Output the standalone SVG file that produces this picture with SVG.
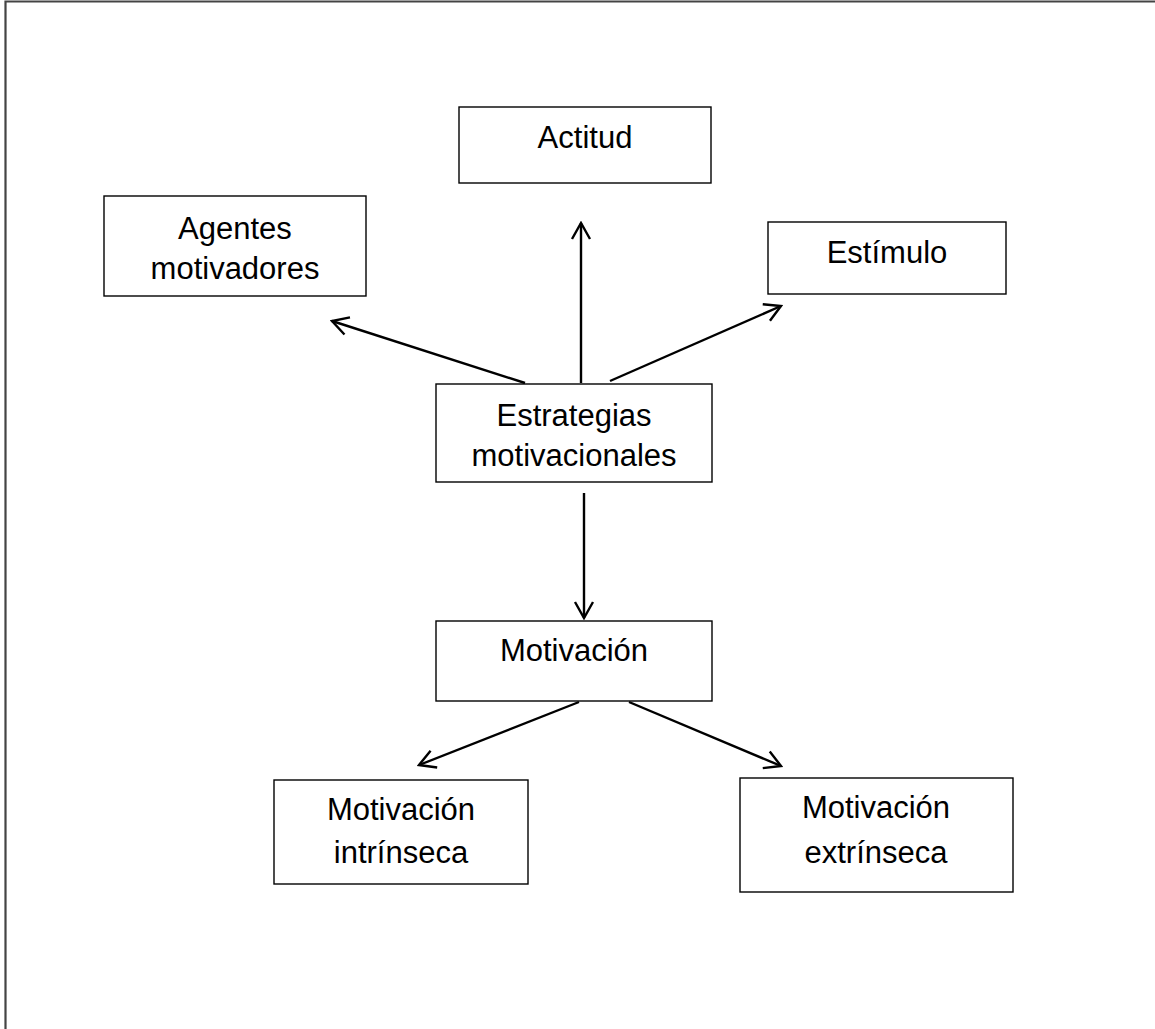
<svg xmlns="http://www.w3.org/2000/svg" width="1155" height="1029" viewBox="0 0 1155 1029">
<defs>
<style>
.box{fill:#fff;stroke:#000;stroke-width:1.4}
.t{font-family:"Liberation Sans",Arial,sans-serif;font-size:31px;fill:#000;text-anchor:middle}
.c{stroke:#000;stroke-width:2.4;fill:none}
</style>
<marker id="ah" viewBox="-18 -11 20 22" markerWidth="20" markerHeight="22" refX="0" refY="0" orient="auto" markerUnits="userSpaceOnUse">
<path d="M-16,-9 L0,0 L-16,9" fill="none" stroke="#000" stroke-width="2.4"/>
</marker>
</defs>
<rect width="1155" height="1029" fill="#fff"/>
<path d="M5.5,1029 V1.5 H1155" fill="none" stroke="#444" stroke-width="2.2"/>
<g id="connectors">
<line class="c" x1="525" y1="383" x2="332" y2="321" marker-end="url(#ah)"/>
<line class="c" x1="581" y1="383" x2="581" y2="223" marker-end="url(#ah)"/>
<line class="c" x1="610" y1="381" x2="781" y2="306" marker-end="url(#ah)"/>
<line class="c" x1="584" y1="493" x2="584" y2="618" marker-end="url(#ah)"/>
<line class="c" x1="579" y1="702" x2="419" y2="765" marker-end="url(#ah)"/>
<line class="c" x1="629" y1="702" x2="781" y2="766" marker-end="url(#ah)"/>
</g>
<g id="actitud"><rect class="box" x="459" y="107" width="252" height="76"/><text class="t" x="585" y="148">Actitud</text></g>
<g id="agentes"><rect class="box" x="104" y="196" width="262" height="100"/><text class="t" x="235" y="239">Agentes</text><text class="t" x="235" y="279">motivadores</text></g>
<g id="estimulo"><rect class="box" x="768" y="222" width="238" height="72"/><text class="t" x="887" y="263">Estímulo</text></g>
<g id="estrategias"><rect class="box" x="436" y="384" width="276" height="98"/><text class="t" x="574" y="426">Estrategias</text><text class="t" x="574" y="466">motivacionales</text></g>
<g id="motivacion"><rect class="box" x="436" y="621" width="276" height="80"/><text class="t" x="574" y="661">Motivación</text></g>
<g id="intrinseca"><rect class="box" x="274" y="780" width="254" height="104"/><text class="t" x="401" y="820">Motivación</text><text class="t" x="401" y="863">intrínseca</text></g>
<g id="extrinseca"><rect class="box" x="740" y="778" width="273" height="114"/><text class="t" x="876" y="818">Motivación</text><text class="t" x="876" y="863">extrínseca</text></g>
</svg>
